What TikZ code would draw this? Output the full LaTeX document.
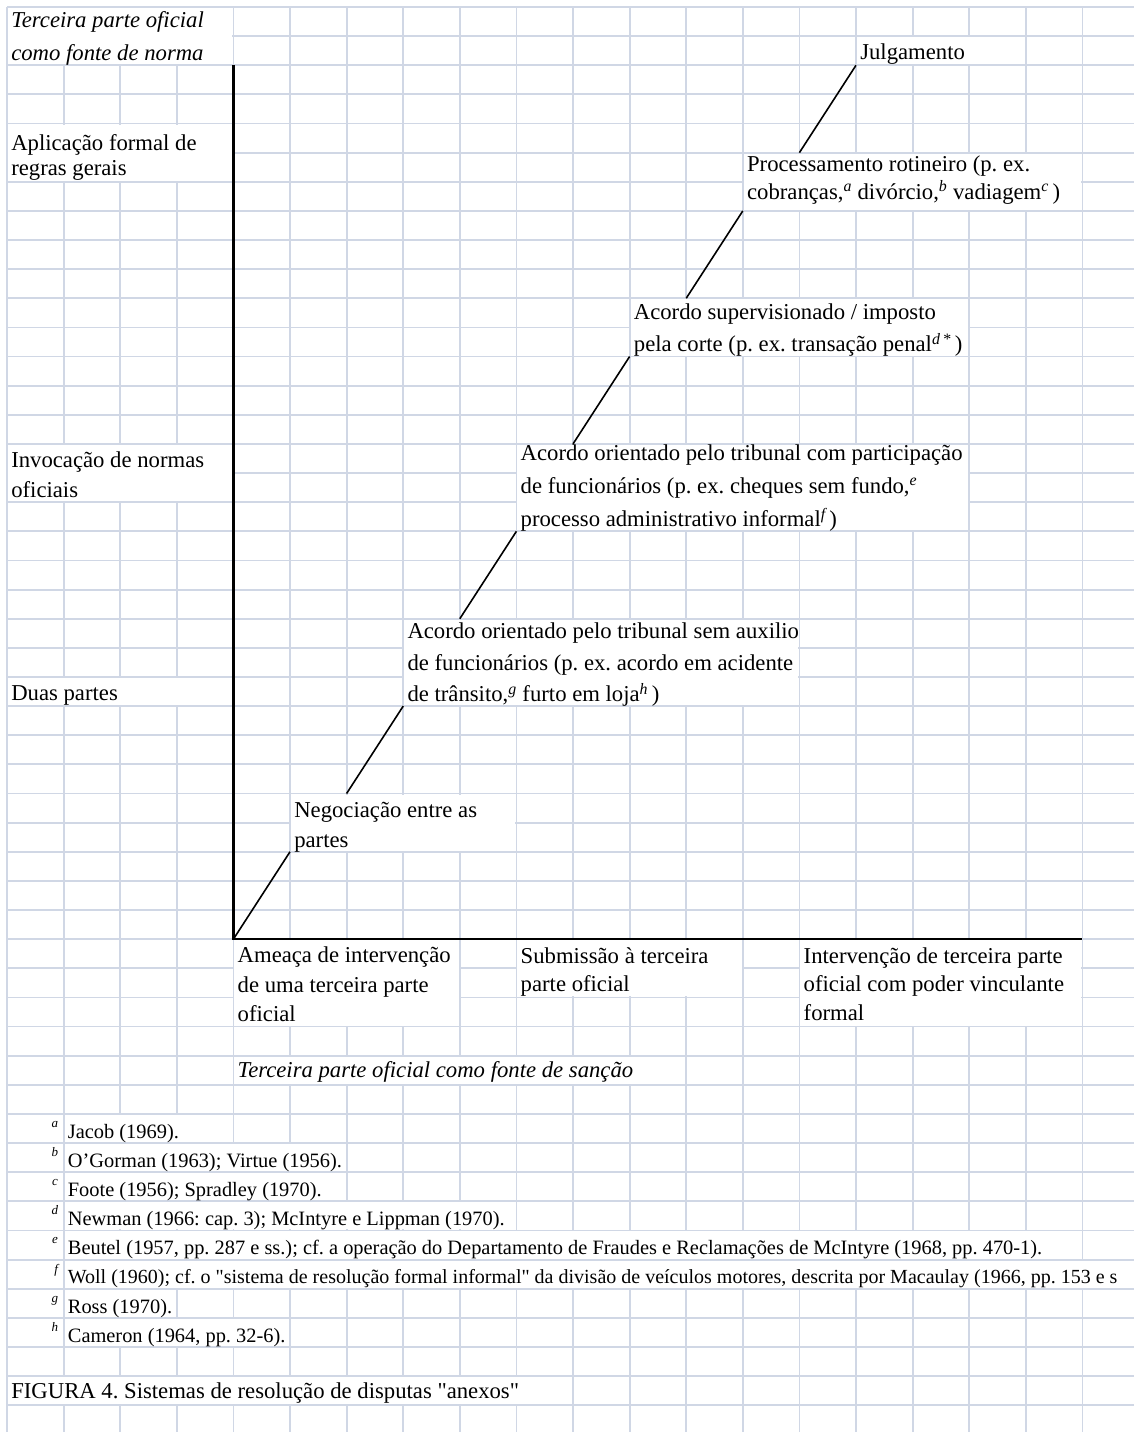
\documentclass[tikz,border=0pt]{standalone}
\usepackage{fontspec}
\setmainfont{Liberation Serif}
\newfontfamily\qfont{Liberation Serif}
\definecolor{gridc}{RGB}{208,215,229}
\newcommand{\mergecell}[4]{\fill[white] ({7+56.6*(#1)+1},{7+29.13*(#2)+1}) rectangle ({7+56.6*(#3)-1},{7+29.13*(#4)-1});}
\newcommand{\qd}{{\qfont"}}
\frenchspacing
\begin{document}
\frenchspacing
\begin{tikzpicture}[x=1pt,y=-1pt,
  gridline/.style={draw=gridc, line width=1.8pt},
  axisline/.style={draw=black, line width=2.6pt},
  stepline/.style={draw=black, line width=1.6pt},
  cellt/.style={anchor=base west, inner sep=0pt, outer sep=0pt, align=left, font=\fontsize{22.7}{#1}\selectfont},
  cellt/.default=29,
  fnt/.style={anchor=base west, inner sep=0pt, outer sep=0pt, font=\fontsize{20.4}{24}\selectfont},
  fnl/.style={anchor=base east, inner sep=0pt, outer sep=0pt, font=\fontsize{13}{15}\selectfont\itshape}]
\fill[white] (0,0) rectangle (1134,1432);
\useasboundingbox (0,0) rectangle (1134,1432);
\begin{scope}
\clip (0,0) rectangle (1134,1432);
% grid
\foreach \k in {0,...,20} \draw[gridline] ({7+56.6*\k},7) -- ({7+56.6*\k},1432);
\foreach \i in {0,...,48} \draw[gridline] (7,{7+29.13*\i}) -- (1134,{7+29.13*\i});
% merged cells
\mergecell{0}{0}{4}{2}
\mergecell{15}{1}{18}{2}
\mergecell{0}{4}{4}{6}
\mergecell{13}{5}{19}{7}
\mergecell{11}{10}{17}{12}
\mergecell{0}{15}{4}{17}
\mergecell{9}{15}{17}{18}
\mergecell{7}{21}{14}{24}
\mergecell{0}{23}{4}{24}
\mergecell{5}{27}{9}{29}
\mergecell{4}{32}{8}{35}
\mergecell{9}{32}{13}{34}
\mergecell{14}{32}{19}{35}
\mergecell{4}{36}{12}{37}
\mergecell{1}{38}{4}{39}
\mergecell{1}{39}{6}{40}
\mergecell{1}{40}{6}{41}
\mergecell{1}{41}{9}{42}
\mergecell{1}{42}{19}{43}
\mergecell{1}{43}{21}{44}
\mergecell{1}{44}{3}{45}
\mergecell{1}{45}{5}{46}
\mergecell{0}{47}{10}{48}

% coordinates
\coordinate (O) at (233.4,939.16);
\coordinate (ytop) at (233.4,65.26);
\coordinate (xend) at (1082.4,939.16);
\coordinate (neg-bl) at (290,851.77);
\coordinate (neg-top) at (346.6,793.51);
\coordinate (sem-bl) at (403.2,706.12);
\coordinate (sem-top) at (459.8,618.73);
\coordinate (com-bl) at (516.4,531.34);
\coordinate (com-top) at (573,443.95);
\coordinate (sup-bl) at (629.6,356.56);
\coordinate (sup-top) at (686.2,298.3);
\coordinate (pro-bl) at (742.8,210.91);
\coordinate (pro-top) at (799.4,152.65);
\coordinate (jul-bl) at (856,65.26);

\draw[axisline] (ytop) -- (O) -- (xend);
\draw[stepline] (O) -- (neg-bl);
\draw[stepline] (neg-top) -- (sem-bl);
\draw[stepline] (sem-top) -- (com-bl);
\draw[stepline] (com-top) -- (sup-bl);
\draw[stepline] (sup-top) -- (pro-bl);
\draw[stepline] (pro-top) -- (jul-bl);

% texts (anchor = baseline of the last line)
\node[cellt=32.3] (norma) at (11.3,60) {\itshape Terceira parte oficial\\\itshape como fonte de norma};
\node[cellt] (jul) at (860.3,59.3) {Julgamento};
\node[cellt=25.2] (apl) at (11.3,175.9) {Aplicação formal de\\regras gerais};
\node[cellt=27.4] (pro) at (747.1,199.1) {Processamento rotineiro (p. ex.\\cobranças,\textsuperscript{\itshape a} divórcio,\textsuperscript{\itshape b} vadiagem\textsuperscript{\itshape c}\,)};
\node[cellt=32.7] (sup) at (633.9,351.7) {Acordo supervisionado / imposto\\pela corte (p. ex. transação penal\textsuperscript{\itshape d\,*}\,)};
\node[cellt=30] (inv) at (11.3,497.3) {Invocação de normas\\oficiais};
\node[cellt=33.3] (com) at (520.7,526.7) {Acordo orientado pelo tribunal com participação\\de funcionários (p. ex. cheques sem fundo,\textsuperscript{\itshape e}\\processo administrativo informal\textsuperscript{\itshape f}\,)};
\node[cellt=31.7] (sem) at (407.5,701.7) {Acordo orientado pelo tribunal sem auxilio\\de funcionários (p. ex. acordo em acidente\\de trânsito,\textsuperscript{\itshape g} furto em loja\textsuperscript{\itshape h}\,)};
\node[cellt] (dua) at (11.3,700) {Duas partes};
\node[cellt=30] (neg) at (294.3,847.3) {Negociação entre as\\partes};
\node[cellt=29.7] (ame) at (237.7,1021.7) {Ameaça de intervenção\\de uma terceira parte\\oficial};
\node[cellt=28.4] (sub) at (520.7,991.7) {Submissão à terceira\\parte oficial};
\node[cellt=28.9] (int) at (803.7,1020.8) {Intervenção de terceira parte\\oficial com poder vinculante\\formal};
\node[cellt] (san) at (237.7,1077.3) {\itshape Terceira parte oficial como fonte de sanção};

\node[fnl] (la) at (58,1127.4) {a};
\node[fnt] (fa) at (67.9,1138.3) {Jacob (1969).};
\node[fnl] (lb) at (58,1156.5) {b};
\node[fnt] (fb) at (67.9,1167.4) {O’Gorman (1963); Virtue (1956).};
\node[fnl] (lc) at (58,1185.6) {c};
\node[fnt] (fc) at (67.9,1196.5) {Foote (1956); Spradley (1970).};
\node[fnl] (ld) at (58,1214.8) {d};
\node[fnt] (fd) at (67.9,1225.7) {Newman (1966: cap. 3); McIntyre e Lippman (1970).};
\node[fnl] (le) at (58,1243.9) {e};
\node[fnt] (fe) at (67.9,1254.8) {Beutel (1957, pp. 287 e ss.); cf. a operação do Departamento de Fraudes e Reclamações de McIntyre (1968, pp. 470-1).};
\node[fnl] (lf) at (58,1273.0) {f};
\node[fnt, font=\fontsize{20}{24}\selectfont] (ff) at (67.9,1283.9) {Woll (1960); cf. o \qd sistema de resolução formal informal\qd{} da divisão de veículos motores, descrita por Macaulay (1966, pp. 153 e s};
\node[fnl] (lg) at (58,1302.2) {g};
\node[fnt] (fg) at (67.9,1313.1) {Ross (1970).};
\node[fnl] (lh) at (58,1331.3) {h};
\node[fnt] (fh) at (67.9,1342.2) {Cameron (1964, pp. 32-6).};
\node[cellt] (fig) at (11.3,1398.3) {FIGURA 4. Sistemas de resolução de disputas \qd anexos\qd};
\end{scope}
\end{tikzpicture}
\end{document}
